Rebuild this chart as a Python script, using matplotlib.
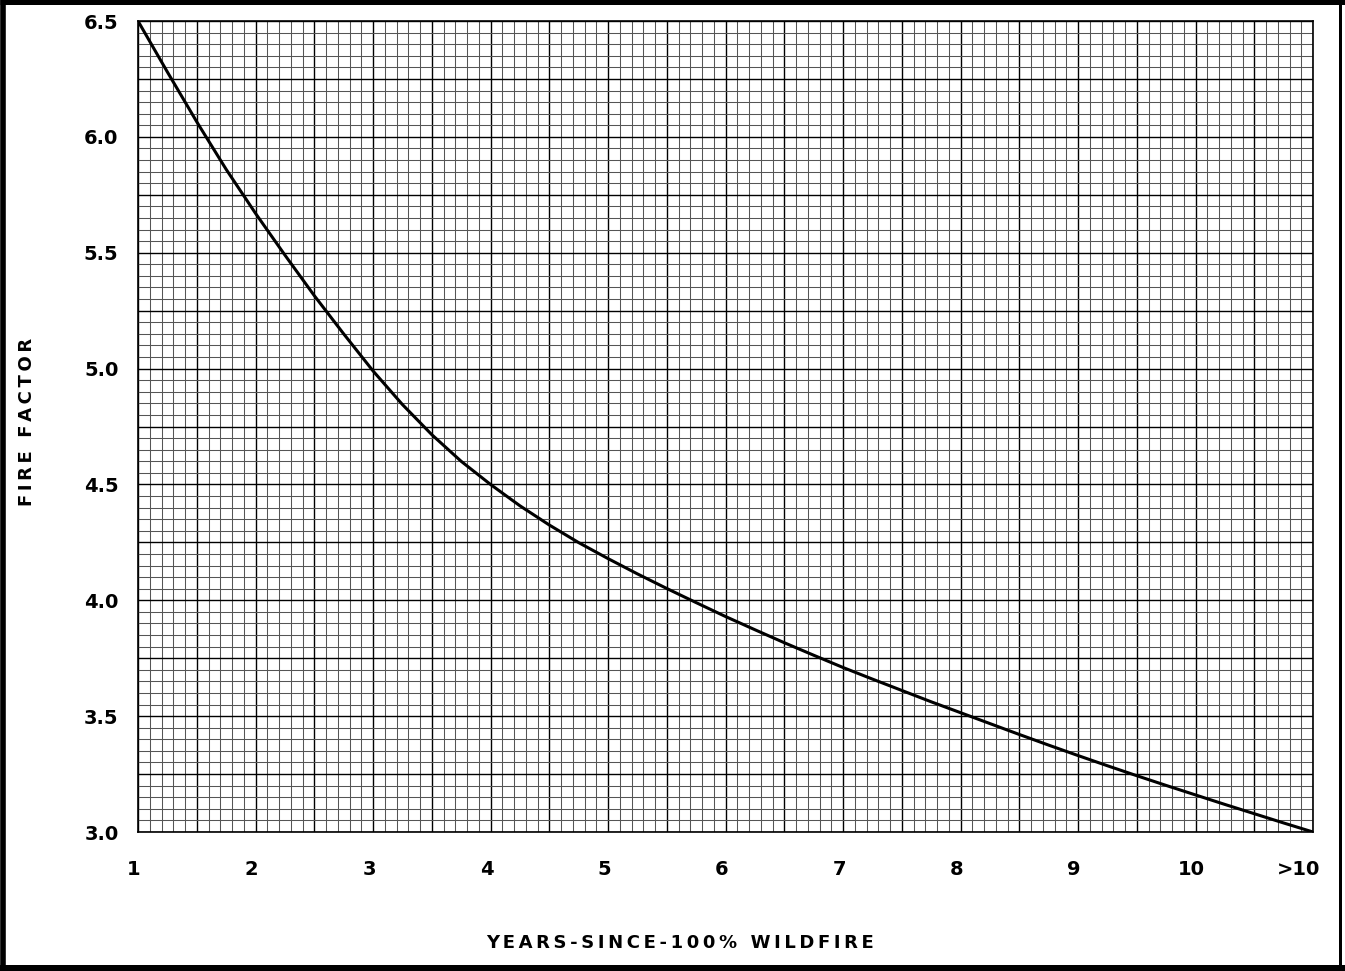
import numpy as np
import matplotlib
matplotlib.use('Agg')
import matplotlib.pyplot as plt
from matplotlib.ticker import MultipleLocator, FuncFormatter
from matplotlib.lines import Line2D
from matplotlib.transforms import ScaledTranslation

# curve
years = [1.0, 1.25, 1.5, 1.75, 2.0, 2.25, 2.5, 2.75, 3.0, 3.25, 3.5, 3.75,
         4.0, 4.25, 4.5, 4.75, 5.0, 5.25, 5.5, 5.75, 6.0, 6.25, 6.5, 6.75,
         7.0, 7.25, 7.5, 7.75, 8.0, 8.25, 8.5, 8.75, 9.0, 9.25, 9.5, 9.75,
         10.0, 10.25, 10.5, 10.75, 11.0]
fire_factor = [6.50, 6.28, 6.065, 5.86, 5.67, 5.49, 5.315, 5.15, 4.99, 4.845, 4.715, 4.60,
               4.50, 4.408, 4.325, 4.249, 4.18, 4.114, 4.051, 3.99, 3.93, 3.873, 3.817, 3.763,
               3.71, 3.66, 3.611, 3.562, 3.515, 3.468, 3.421, 3.375, 3.33, 3.286, 3.243, 3.201,
               3.16, 3.119, 3.079, 3.039, 3.00]

x_ticks = [1, 2, 3, 4, 5, 6, 7, 8, 9, 10, 11]
x_labels = ['1', '2', '3', '4', '5', '6', '7', '8', '9', '10', '>10']
y_ticks = [3.0, 3.5, 4.0, 4.5, 5.0, 5.5, 6.0, 6.5]

plt.rcParams['font.family'] = ['DejaVu Sans']
plt.rcParams['font.weight'] = 'bold'

W, H = 1345, 971
fig = plt.figure(figsize=(W / 100, H / 100), dpi=100)
ax = fig.add_axes([138 / W, 1 - 832 / H, (1313 - 138) / W, (832 - 21) / H])

ax.set_xlim(1, 11)
ax.set_ylim(3.0, 6.5)

# graph paper: fine lines every cell, darker every 5 cells
ax.xaxis.set_major_locator(MultipleLocator(0.5))
ax.xaxis.set_minor_locator(MultipleLocator(0.1))
ax.yaxis.set_major_locator(MultipleLocator(0.25))
ax.yaxis.set_minor_locator(MultipleLocator(0.05))
ax.grid(which='minor', color='#555555', linewidth=0.75)
ax.grid(which='major', color='#000000', linewidth=1.0)
ax.set_axisbelow(True)


def xfmt(v, pos):
    for t, lab in zip(x_ticks, x_labels):
        if abs(v - t) < 1e-6:
            return lab
    return ''


def yfmt(v, pos):
    for t in y_ticks:
        if abs(v - t) < 1e-6:
            return '%.1f' % t
    return ''


ax.xaxis.set_major_formatter(FuncFormatter(xfmt))
ax.yaxis.set_major_formatter(FuncFormatter(yfmt))
ax.tick_params(which='both', length=0)
ax.tick_params(axis='x', pad=20, labelsize=14)
ax.tick_params(axis='y', pad=14, labelsize=14)

# shift x labels slightly left like the printed chart
fig.canvas.draw()
for lab in ax.get_xticklabels():
    dx = -14 if lab.get_text() == '>10' else -4
    lab.set_transform(lab.get_transform() + ScaledTranslation(dx / 100, 0, fig.dpi_scale_trans))

for s in ax.spines.values():
    s.set_color('black')
    s.set_linewidth(1.2)

ax.plot(years, fire_factor, color='black', linewidth=2.2, solid_capstyle='round')

sp = '\u2009'
fig.text(680 / W, 1 - 943 / H, sp.join('YEARS-SINCE-100% WILDFIRE'),
         ha='center', va='center', fontsize=13, fontweight='bold')
fig.text(27.5 / W, 1 - 422 / H, sp.join('FIRE FACTOR'), rotation=90,
         ha='center', va='center', fontsize=13, fontweight='bold')

# black frame of the scanned page
frame = [([0, 1], [1 - 2.5 / H] * 2, 5),
         ([0, 1], [3 / H] * 2, 6),
         ([2.8 / W] * 2, [0, 1], 5.6),
         ([1340.3 / W] * 2, [0, 1], 3)]
for xs, ys, w in frame:
    fig.lines.append(Line2D(xs, ys, transform=fig.transFigure, color='black',
                            linewidth=w * 0.72, solid_capstyle='butt'))

fig.savefig('out.png', dpi=100, facecolor='white')
